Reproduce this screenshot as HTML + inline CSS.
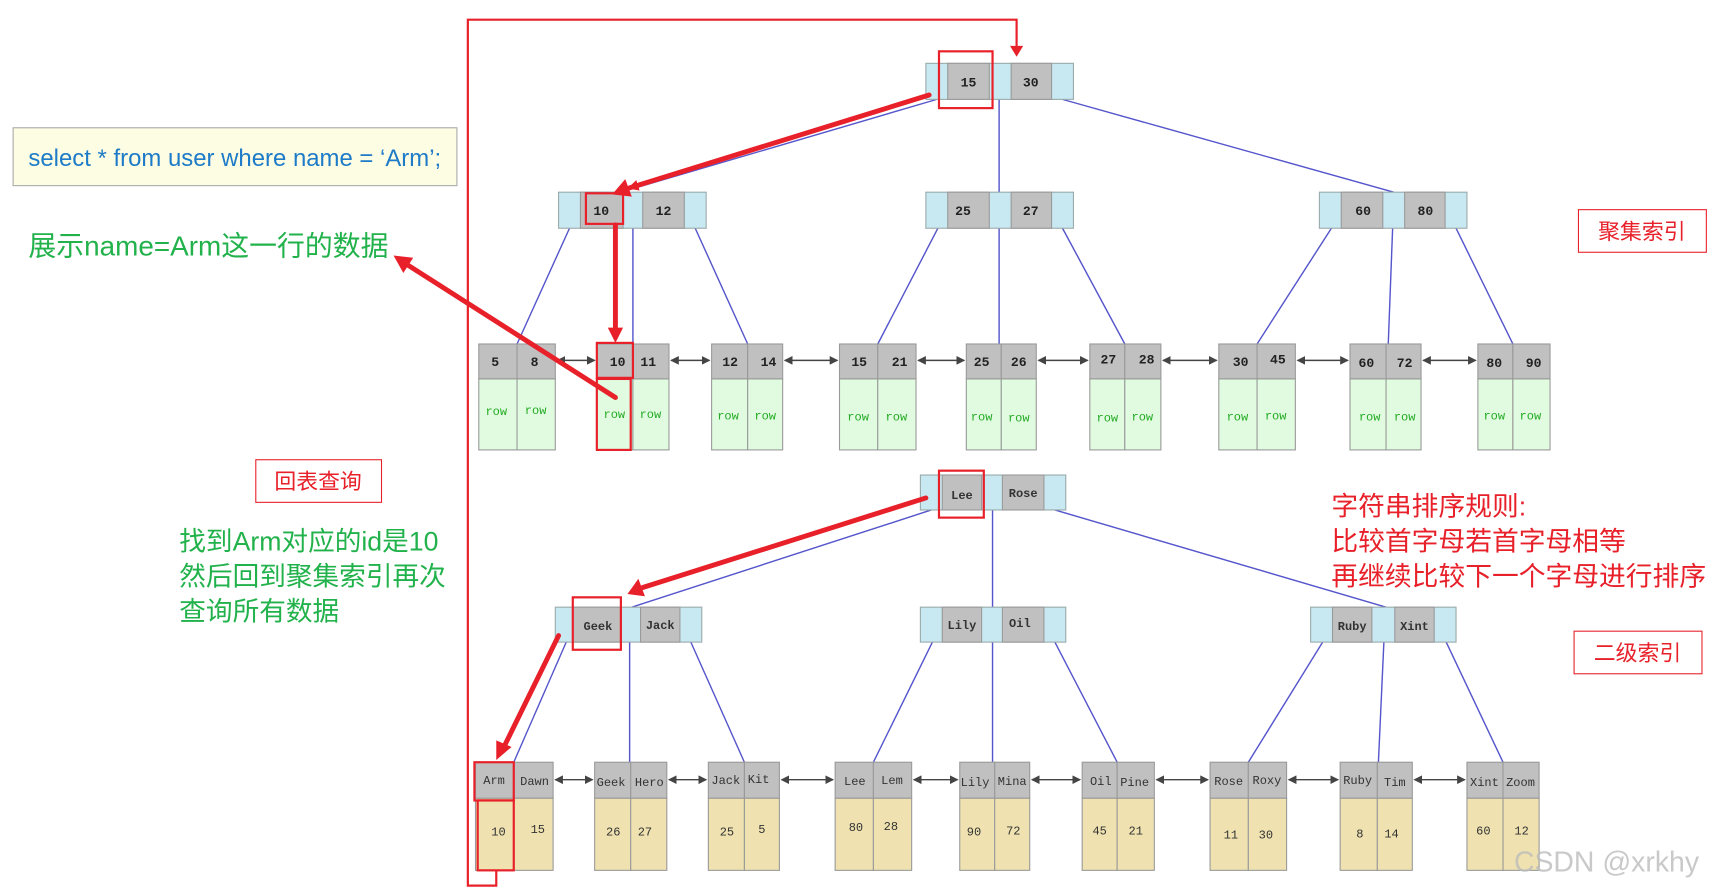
<!DOCTYPE html>
<html><head><meta charset="utf-8"><style>
html,body{margin:0;padding:0;background:#fff;}
svg{display:block}
.c{fill:#c9e9f2;stroke:#9aa;stroke-width:1}
.g{fill:#c0c0c0;stroke:#999;stroke-width:1}
.r{fill:#e0fbe0;stroke:#999;stroke-width:1}
.y{fill:#efe2b0;stroke:#999;stroke-width:1}
.k{font-family:"Liberation Mono",monospace;font-size:12px;font-weight:bold;fill:#222;text-anchor:middle}
.w{font-family:"Liberation Mono",monospace;font-size:11px;fill:#2a2;text-anchor:middle}
.v{font-family:"Liberation Mono",monospace;font-size:11px;fill:#333;text-anchor:middle}
.bl{stroke:#5555cc;stroke-width:1.3;fill:none}
.ar{stroke:#444;stroke-width:1.3;marker-start:url(#ah);marker-end:url(#ah)}
.cj{font-family:"Liberation Sans","Noto Sans CJK SC",sans-serif}
</style></head><body>
<svg width="1714" height="890" viewBox="0 0 1568 815" preserveAspectRatio="none" xmlns="http://www.w3.org/2000/svg">
<defs>
<marker id="ah" markerWidth="8" markerHeight="8" refX="7" refY="4" orient="auto-start-reverse" markerUnits="userSpaceOnUse"><path d="M0,0 L8,4 L0,8 z" fill="#444"/></marker>
<marker id="rh2" markerWidth="10" markerHeight="10" refX="8" refY="5" orient="auto" markerUnits="userSpaceOnUse"><path d="M0,0 L10,5 L0,10 z" fill="#e8202a"/></marker>
</defs>

<rect x="12" y="117" width="406" height="53" fill="#fdfde3" stroke="#aaa"/>
<text x="26" y="152" class="cj" font-size="21.9" fill="#1e7bc8">select * from user where name = ‘Arm’;</text>
<text x="26" y="234" class="cj" font-size="25.5" fill="#22b24c">展示name=Arm这一行的数据</text>
<rect x="234" y="421" width="115" height="39" fill="#fff" stroke="#e8202a"/>
<text x="291" y="448" class="cj" font-size="20" fill="#e8202a" text-anchor="middle">回表查询</text>
<text x="164" y="504" class="cj" font-size="24.4" fill="#22b24c">找到Arm对应的id是10</text>
<text x="164" y="536" class="cj" font-size="24.4" fill="#22b24c">然后回到聚集索引再次</text>
<text x="164" y="568" class="cj" font-size="24.4" fill="#22b24c">查询所有数据</text>
<rect x="1444" y="192" width="117" height="39" fill="#fff" stroke="#e8202a"/>
<text x="1502" y="219" class="cj" font-size="20" fill="#e8202a" text-anchor="middle">聚集索引</text>
<rect x="1440" y="578" width="117" height="39" fill="#fff" stroke="#e8202a"/>
<text x="1498" y="605" class="cj" font-size="20" fill="#e8202a" text-anchor="middle">二级索引</text>
<text x="1218" y="472" class="cj" font-size="24.5" fill="#e8202a">字符串排序规则:</text>
<text x="1218" y="504" class="cj" font-size="24.5" fill="#e8202a">比较首字母若首字母相等</text>
<text x="1218" y="536" class="cj" font-size="24.5" fill="#e8202a">再继续比较下一个字母进行排序</text>

<line class="bl" x1="857" y1="91" x2="568" y2="176"/>
<line class="bl" x1="914" y1="91" x2="914" y2="176"/>
<line class="bl" x1="972" y1="91" x2="1275" y2="176"/>
<line class="bl" x1="521" y1="209" x2="473" y2="315"/>
<line class="bl" x1="579" y1="209" x2="579" y2="315"/>
<line class="bl" x1="636" y1="209" x2="684" y2="315"/>
<line class="bl" x1="858" y1="209" x2="803" y2="315"/>
<line class="bl" x1="914" y1="209" x2="914" y2="315"/>
<line class="bl" x1="972" y1="209" x2="1029" y2="315"/>
<line class="bl" x1="1218" y1="209" x2="1150" y2="315"/>
<line class="bl" x1="1274" y1="209" x2="1270" y2="315"/>
<line class="bl" x1="1332" y1="209" x2="1384" y2="315"/>

<rect class="c" x="847" y="58" width="135" height="33"/>
<rect class="g" x="867" y="58" width="38" height="33"/><rect class="g" x="925" y="58" width="37" height="33"/>
<text class="k" x="886" y="79">15</text><text class="k" x="943" y="79">30</text>
<rect class="c" x="511" y="176" width="135" height="33"/>
<rect class="g" x="531" y="176" width="39" height="33"/><rect class="g" x="588" y="176" width="38" height="33"/>
<text class="k" x="550" y="197">10</text><text class="k" x="607" y="197">12</text>
<rect class="c" x="847" y="176" width="135" height="33"/>
<rect class="g" x="867" y="176" width="38" height="33"/><rect class="g" x="925" y="176" width="37" height="33"/>
<text class="k" x="881" y="197">25</text><text class="k" x="943" y="197">27</text>
<rect class="c" x="1207" y="176" width="135" height="33"/>
<rect class="g" x="1227" y="176" width="38" height="33"/><rect class="g" x="1285" y="176" width="37" height="33"/>
<text class="k" x="1247" y="197">60</text><text class="k" x="1304" y="197">80</text>

<g>
<rect class="g" x="438" y="315" width="35" height="32"/><rect class="g" x="473" y="315" width="35" height="32"/><rect class="r" x="438" y="347" width="35" height="65"/><rect class="r" x="473" y="347" width="35" height="65"/><text class="k" x="453" y="335">5</text><text class="k" x="489" y="335">8</text><text class="w" x="454" y="380">row</text><text class="w" x="490" y="379">row</text>
<rect class="g" x="546" y="315" width="33" height="32"/><rect class="g" x="579" y="315" width="33" height="32"/><rect class="r" x="546" y="347" width="33" height="65"/><rect class="r" x="579" y="347" width="33" height="65"/><text class="k" x="565" y="335">10</text><text class="k" x="593" y="335">11</text><text class="w" x="562" y="383">row</text><text class="w" x="595" y="383">row</text>
<rect class="g" x="651" y="315" width="33" height="32"/><rect class="g" x="684" y="315" width="32" height="32"/><rect class="r" x="651" y="347" width="33" height="65"/><rect class="r" x="684" y="347" width="32" height="65"/><text class="k" x="668" y="335">12</text><text class="k" x="703" y="335">14</text><text class="w" x="666" y="384">row</text><text class="w" x="700" y="384">row</text>
<rect class="g" x="768" y="315" width="35" height="32"/><rect class="g" x="803" y="315" width="35" height="32"/><rect class="r" x="768" y="347" width="35" height="65"/><rect class="r" x="803" y="347" width="35" height="65"/><text class="k" x="786" y="335">15</text><text class="k" x="823" y="335">21</text><text class="w" x="785" y="385">row</text><text class="w" x="820" y="385">row</text>
<rect class="g" x="884" y="315" width="32" height="32"/><rect class="g" x="916" y="315" width="32" height="32"/><rect class="r" x="884" y="347" width="32" height="65"/><rect class="r" x="916" y="347" width="32" height="65"/><text class="k" x="898" y="335">25</text><text class="k" x="932" y="335">26</text><text class="w" x="898" y="385">row</text><text class="w" x="932" y="386">row</text>
<rect class="g" x="997" y="315" width="32" height="32"/><rect class="g" x="1029" y="315" width="33" height="32"/><rect class="r" x="997" y="347" width="32" height="65"/><rect class="r" x="1029" y="347" width="33" height="65"/><text class="k" x="1014" y="333">27</text><text class="k" x="1049" y="333">28</text><text class="w" x="1013" y="386">row</text><text class="w" x="1045" y="385">row</text>
<rect class="g" x="1115" y="315" width="35" height="32"/><rect class="g" x="1150" y="315" width="35" height="32"/><rect class="r" x="1115" y="347" width="35" height="65"/><rect class="r" x="1150" y="347" width="35" height="65"/><text class="k" x="1135" y="335">30</text><text class="k" x="1169" y="333">45</text><text class="w" x="1132" y="385">row</text><text class="w" x="1167" y="384">row</text>
<rect class="g" x="1235" y="315" width="33" height="32"/><rect class="g" x="1268" y="315" width="32" height="32"/><rect class="r" x="1235" y="347" width="33" height="65"/><rect class="r" x="1268" y="347" width="32" height="65"/><text class="k" x="1250" y="336">60</text><text class="k" x="1285" y="336">72</text><text class="w" x="1253" y="385">row</text><text class="w" x="1285" y="385">row</text>
<rect class="g" x="1352" y="315" width="32" height="32"/><rect class="g" x="1384" y="315" width="34" height="32"/><rect class="r" x="1352" y="347" width="32" height="65"/><rect class="r" x="1384" y="347" width="34" height="65"/><text class="k" x="1367" y="336">80</text><text class="k" x="1403" y="336">90</text><text class="w" x="1367" y="384">row</text><text class="w" x="1400" y="384">row</text>
</g>
<line class="ar" x1="510" y1="330" x2="544" y2="330"/>
<line class="ar" x1="614" y1="330" x2="649" y2="330"/>
<line class="ar" x1="718" y1="330" x2="766" y2="330"/>
<line class="ar" x1="840" y1="330" x2="882" y2="330"/>
<line class="ar" x1="950" y1="330" x2="995" y2="330"/>
<line class="ar" x1="1064" y1="330" x2="1113" y2="330"/>
<line class="ar" x1="1187" y1="330" x2="1233" y2="330"/>
<line class="ar" x1="1302" y1="330" x2="1350" y2="330"/>

<line class="bl" x1="852" y1="467" x2="578" y2="556"/>
<line class="bl" x1="908" y1="467" x2="908" y2="556"/>
<line class="bl" x1="965" y1="467" x2="1268" y2="556"/>
<line class="bl" x1="518" y1="588" x2="470" y2="698"/>
<line class="bl" x1="576" y1="588" x2="576" y2="698"/>
<line class="bl" x1="632" y1="588" x2="681" y2="698"/>
<line class="bl" x1="853" y1="588" x2="799" y2="698"/>
<line class="bl" x1="908" y1="588" x2="908" y2="698"/>
<line class="bl" x1="965" y1="588" x2="1022" y2="698"/>
<line class="bl" x1="1210" y1="588" x2="1142" y2="698"/>
<line class="bl" x1="1266" y1="588" x2="1261" y2="698"/>
<line class="bl" x1="1323" y1="588" x2="1375" y2="698"/>

<rect class="c" x="842" y="435" width="133" height="32"/>
<rect class="g" x="862" y="435" width="36" height="32"/><rect class="g" x="917" y="435" width="38" height="32"/>
<text class="v" x="880" y="457" font-weight="bold">Lee</text><text class="v" x="936" y="455" font-weight="bold">Rose</text>
<rect class="c" x="508" y="556" width="134" height="32"/>
<rect class="g" x="524" y="556" width="44" height="32"/><rect class="g" x="586" y="556" width="36" height="32"/>
<text class="v" x="547" y="577" font-weight="bold">Geek</text><text class="v" x="604" y="576" font-weight="bold">Jack</text>
<rect class="c" x="842" y="556" width="133" height="32"/>
<rect class="g" x="862" y="556" width="36" height="32"/><rect class="g" x="917" y="556" width="38" height="32"/>
<text class="v" x="880" y="576" font-weight="bold">Lily</text><text class="v" x="933" y="574" font-weight="bold">Oil</text>
<rect class="c" x="1199" y="556" width="133" height="32"/>
<rect class="g" x="1219" y="556" width="36" height="32"/><rect class="g" x="1276" y="556" width="36" height="32"/>
<text class="v" x="1237" y="577" font-weight="bold">Ruby</text><text class="v" x="1294" y="577" font-weight="bold">Xint</text>

<g>
<rect class="g" x="435" y="698" width="35" height="33"/><rect class="g" x="470" y="698" width="36" height="33"/><rect class="y" x="435" y="731" width="35" height="66"/><rect class="y" x="470" y="731" width="36" height="66"/><text class="v" x="452" y="718">Arm</text><text class="v" x="489" y="719">Dawn</text><text class="v" x="456" y="765">10</text><text class="v" x="492" y="763">15</text>
<rect class="g" x="544" y="698" width="33" height="33"/><rect class="g" x="577" y="698" width="33" height="33"/><rect class="y" x="544" y="731" width="33" height="66"/><rect class="y" x="577" y="731" width="33" height="66"/><text class="v" x="559" y="720">Geek</text><text class="v" x="594" y="720">Hero</text><text class="v" x="561" y="765">26</text><text class="v" x="590" y="765">27</text>
<rect class="g" x="648" y="698" width="33" height="33"/><rect class="g" x="681" y="698" width="32" height="33"/><rect class="y" x="648" y="731" width="33" height="66"/><rect class="y" x="681" y="731" width="32" height="66"/><text class="v" x="664" y="718">Jack</text><text class="v" x="694" y="717">Kit</text><text class="v" x="665" y="765">25</text><text class="v" x="697" y="763">5</text>
<rect class="g" x="764" y="698" width="35" height="33"/><rect class="g" x="799" y="698" width="35" height="33"/><rect class="y" x="764" y="731" width="35" height="66"/><rect class="y" x="799" y="731" width="35" height="66"/><text class="v" x="782" y="719">Lee</text><text class="v" x="816" y="718">Lem</text><text class="v" x="783" y="761">80</text><text class="v" x="815" y="760">28</text>
<rect class="g" x="878" y="698" width="32" height="33"/><rect class="g" x="910" y="698" width="32" height="33"/><rect class="y" x="878" y="731" width="32" height="66"/><rect class="y" x="910" y="731" width="32" height="66"/><text class="v" x="892" y="720">Lily</text><text class="v" x="926" y="719">Mina</text><text class="v" x="891" y="765">90</text><text class="v" x="927" y="764">72</text>
<rect class="g" x="990" y="698" width="32" height="33"/><rect class="g" x="1022" y="698" width="34" height="33"/><rect class="y" x="990" y="731" width="32" height="66"/><rect class="y" x="1022" y="731" width="34" height="66"/><text class="v" x="1007" y="719">Oil</text><text class="v" x="1038" y="720">Pine</text><text class="v" x="1006" y="764">45</text><text class="v" x="1039" y="764">21</text>
<rect class="g" x="1107" y="698" width="35" height="33"/><rect class="g" x="1142" y="698" width="35" height="33"/><rect class="y" x="1107" y="731" width="35" height="66"/><rect class="y" x="1142" y="731" width="35" height="66"/><text class="v" x="1124" y="719">Rose</text><text class="v" x="1159" y="718">Roxy</text><text class="v" x="1126" y="768">11</text><text class="v" x="1158" y="768">30</text>
<rect class="g" x="1226" y="698" width="34" height="33"/><rect class="g" x="1260" y="698" width="32" height="33"/><rect class="y" x="1226" y="731" width="34" height="66"/><rect class="y" x="1260" y="731" width="32" height="66"/><text class="v" x="1242" y="718">Ruby</text><text class="v" x="1276" y="720">Tim</text><text class="v" x="1244" y="767">8</text><text class="v" x="1273" y="767">14</text>
<rect class="g" x="1342" y="698" width="33" height="33"/><rect class="g" x="1375" y="698" width="33" height="33"/><rect class="y" x="1342" y="731" width="33" height="66"/><rect class="y" x="1375" y="731" width="33" height="66"/><text class="v" x="1358" y="720">Xint</text><text class="v" x="1391" y="720">Zoom</text><text class="v" x="1357" y="764">60</text><text class="v" x="1392" y="764">12</text>
</g>
<line class="ar" x1="508" y1="714" x2="542" y2="714"/>
<line class="ar" x1="612" y1="714" x2="646" y2="714"/>
<line class="ar" x1="715" y1="714" x2="762" y2="714"/>
<line class="ar" x1="836" y1="714" x2="876" y2="714"/>
<line class="ar" x1="944" y1="714" x2="988" y2="714"/>
<line class="ar" x1="1058" y1="714" x2="1105" y2="714"/>
<line class="ar" x1="1179" y1="714" x2="1224" y2="714"/>
<line class="ar" x1="1294" y1="714" x2="1340" y2="714"/>

<g fill="none" stroke="#e8202a" stroke-width="2">
<rect x="859" y="47" width="49" height="52"/>
<rect x="536" y="177" width="34" height="28"/>
<rect x="546" y="314" width="33" height="32"/>
<rect x="546" y="347" width="31" height="65"/>
<rect x="859" y="431" width="41" height="43"/>
<rect x="524" y="547" width="44" height="48"/>
<rect x="434" y="698" width="36" height="35"/>
<rect x="437" y="733" width="33" height="64"/>
<polyline points="454,797 454,811 428,811 428,18 930,18 930,44"/>
</g>
<path d="M924,42 L930,52 L936,42 z" fill="#e8202a"/>
<g stroke="#e8202a" stroke-width="4.5" fill="none" stroke-linecap="round">
<line x1="850" y1="87" x2="576" y2="172" marker-end="url(#rh2)"/>
<line x1="563" y1="206" x2="563" y2="302"/>
<line x1="563" y1="364" x2="372" y2="242"/>
<line x1="847" y1="456" x2="588" y2="538"/>
<line x1="511" y1="582" x2="461" y2="684"/>
</g>
<g fill="#e8202a">
<path d="M560,178 L572,164 L578,180 z"/>
<path d="M556,300 L570,300 L563,314 z"/>
<path d="M360,234 L378,236 L369,250 z"/>
<path d="M574,544 L584,530 L590,546 z"/>
<path d="M454,696 L454,678 L468,684 z"/>
</g>
<text x="1385" y="798" class="cj" font-size="26" fill="#bbb" fill-opacity="0.8">CSDN @xrkhy</text>
</svg>
</body></html>
